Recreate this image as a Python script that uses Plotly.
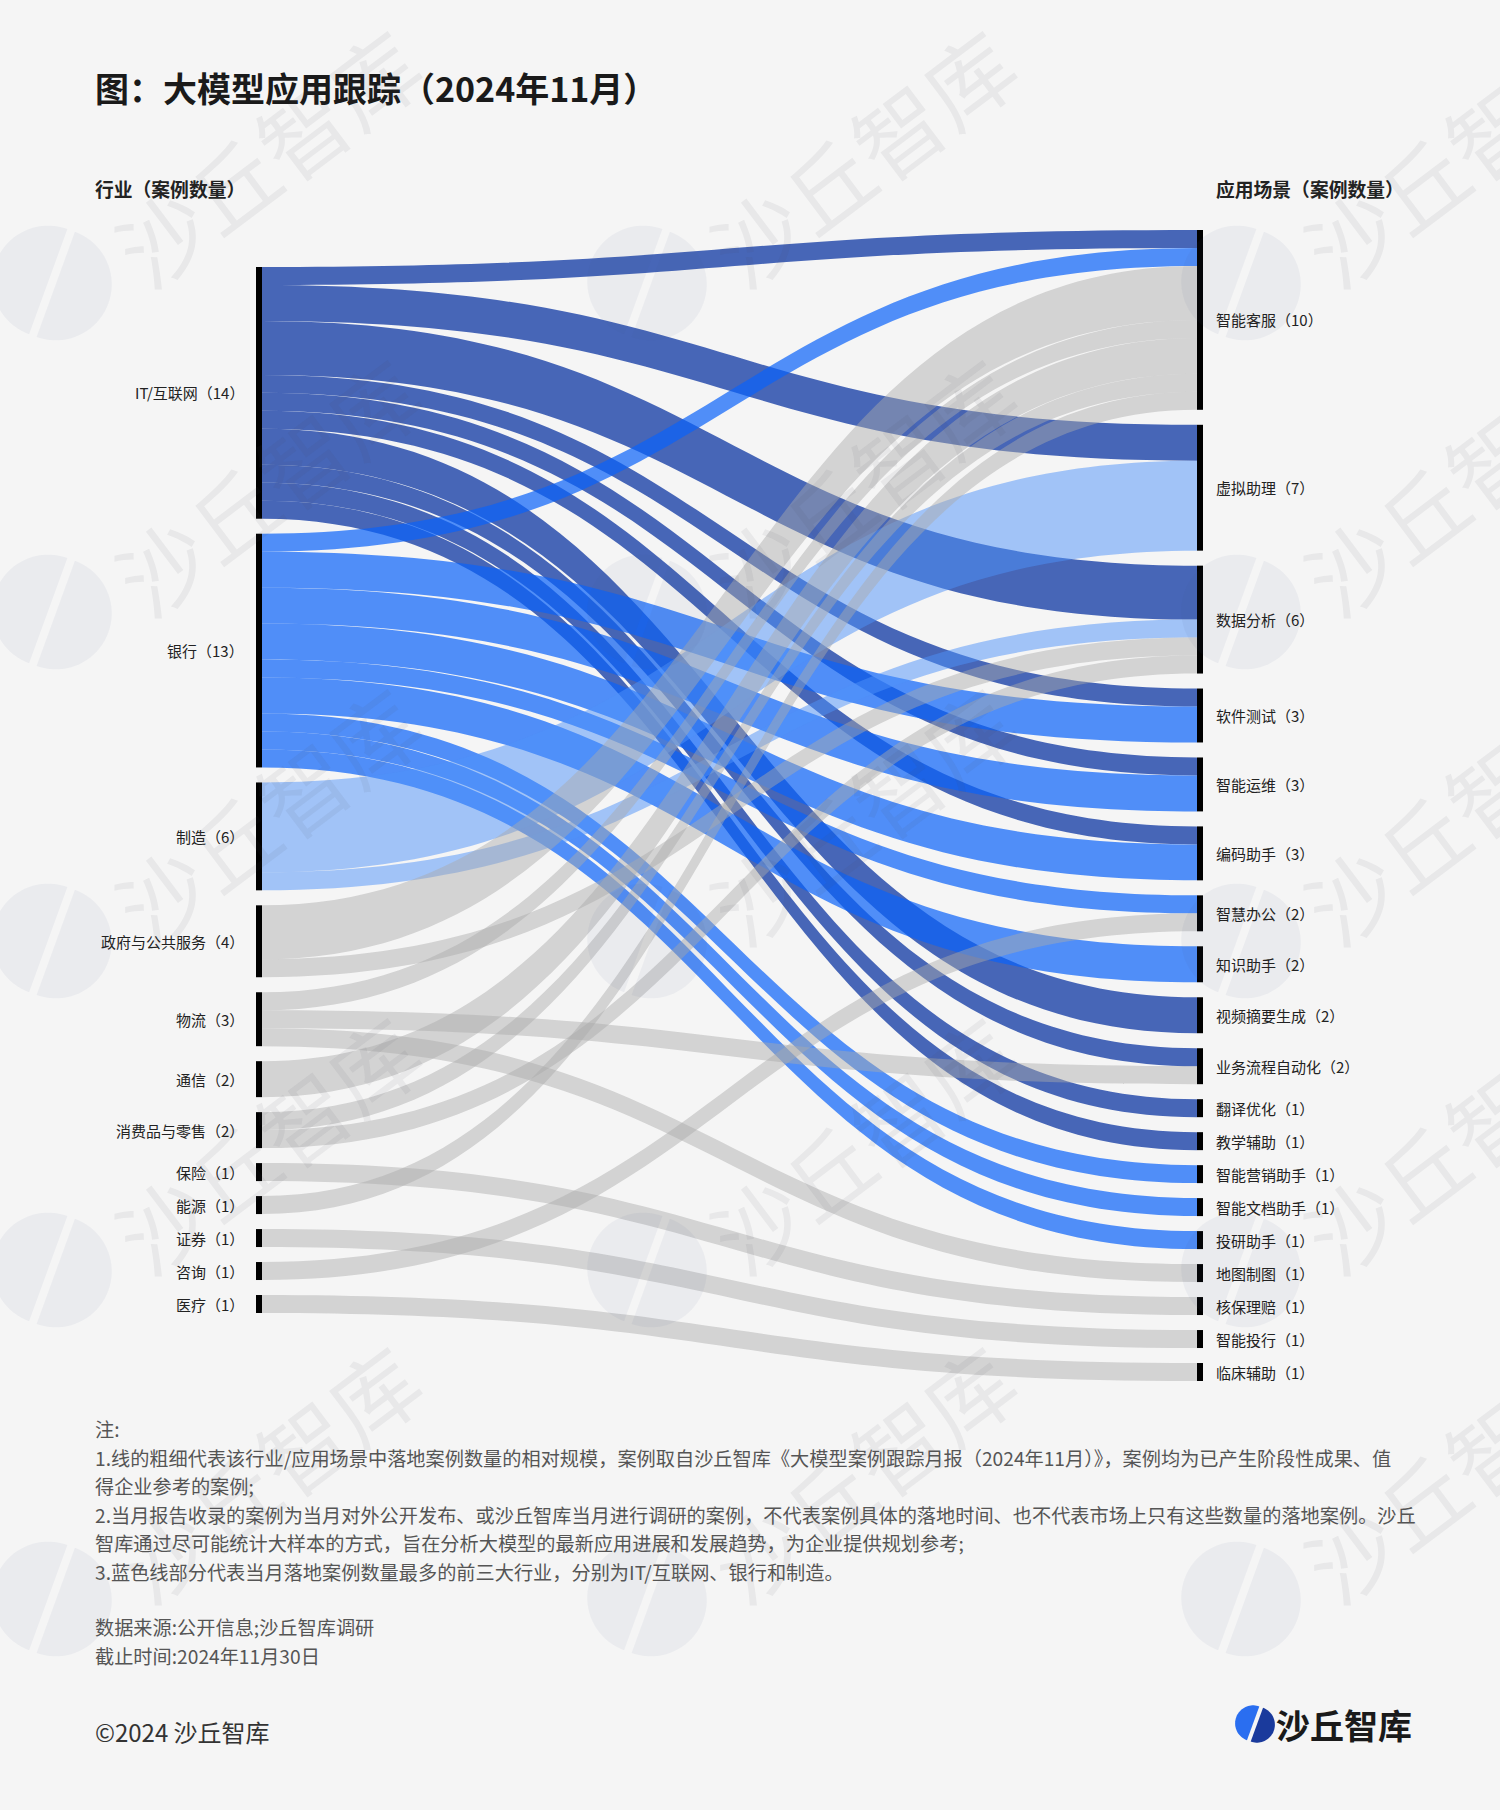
import math
import plotly.graph_objects as go

# ---------------- data ----------------
industries = ["IT/互联网", "银行", "制造", "政府与公共服务", "物流", "通信",
              "消费品与零售", "保险", "能源", "证券", "咨询", "医疗"]
industry_counts = [14, 13, 6, 4, 3, 2, 2, 1, 1, 1, 1, 1]

scenarios = ["智能客服", "虚拟助理", "数据分析", "软件测试", "智能运维", "编码助手",
             "智慧办公", "知识助手", "视频摘要生成", "业务流程自动化", "翻译优化",
             "教学辅助", "智能营销助手", "智能文档助手", "投研助手", "地图制图",
             "核保理赔", "智能投行", "临床辅助"]
scenario_counts = [10, 7, 6, 3, 3, 3, 2, 2, 2, 2, 1, 1, 1, 1, 1, 1, 1, 1, 1]

link_industry = ["IT/互联网"] * 10 + ["银行"] * 9 + ["制造"] * 2 + ["政府与公共服务"] * 2 + \
                ["物流"] * 3 + ["通信"] + ["消费品与零售"] * 2 + ["保险", "能源", "证券", "咨询", "医疗"]
link_scenario = ["智能客服", "虚拟助理", "数据分析", "软件测试", "智能运维", "编码助手",
                 "视频摘要生成", "业务流程自动化", "翻译优化", "教学辅助",
                 "智能客服", "软件测试", "智能运维", "编码助手", "智慧办公", "知识助手",
                 "智能营销助手", "智能文档助手", "投研助手",
                 "虚拟助理", "数据分析",
                 "智能客服", "数据分析",
                 "智能客服", "业务流程自动化", "地图制图",
                 "智能客服",
                 "智能客服", "数据分析",
                 "核保理赔", "智能客服", "智能投行", "智慧办公", "临床辅助"]
link_value = [1, 2, 3, 1, 1, 1, 2, 1, 1, 1,
              1, 2, 2, 2, 1, 2, 1, 1, 1,
              5, 1,
              3, 1,
              1, 1, 1,
              2,
              1, 1,
              1, 1, 1, 1, 1]

title_text = "图：大模型应用跟踪（2024年11月）"
left_header = "行业（案例数量）"
right_header = "应用场景（案例数量）"
notes = [
    "注:",
    "1.线的粗细代表该行业/应用场景中落地案例数量的相对规模，案例取自沙丘智库《大模型案例跟踪月报（2024年11月）》，案例均为已产生阶段性成果、值",
    "得企业参考的案例;",
    "2.当月报告收录的案例为当月对外公开发布、或沙丘智库当月进行调研的案例，不代表案例具体的落地时间、也不代表市场上只有这些数量的落地案例。沙丘",
    "智库通过尽可能统计大样本的方式，旨在分析大模型的最新应用进展和发展趋势，为企业提供规划参考;",
    "3.蓝色线部分代表当月落地案例数量最多的前三大行业，分别为IT/互联网、银行和制造。",
]
source_lines = ["数据来源:公开信息;沙丘智库调研", "截止时间:2024年11月30日"]
copyright_text = "©2024 沙丘智库"
brand_text = "沙丘智库"
watermark_text = "沙丘智库"

# ---------------- styling / layout constants ----------------
W, H = 1500, 1810
BG = "#f5f5f5"
FONT = "Noto Sans CJK SC"
industry_colors = {
    "IT/互联网": "rgba(22,61,165,0.78)",
    "银行": "rgba(10,98,250,0.70)",
    "制造": "rgba(77,145,250,0.50)",
}
other_color = "rgba(170,170,170,0.46)"

dom_x0, dom_x1 = 255, 1204      # sankey domain in px
dom_y0, dom_y1 = 230, 1381
pad = 15
thick = 6
left_cx, right_cx = 259, 1200
left_top = 267
right_top = dom_y0


def px(x):
    return x / W


def py(y):
    return 1 - y / H


dom_h = dom_y1 - dom_y0
dom_w = dom_x1 - dom_x0
total = sum(scenario_counts)
unit = (dom_h - (len(scenarios) - 1) * pad) / total


def centers(counts, top):
    out = []
    y = top
    for c in counts:
        out.append(y + c * unit / 2)
        y += c * unit + pad
    return out


left_centers = centers(industry_counts, left_top)
right_centers = centers(scenario_counts, right_top)

labels = industries + scenarios
node_x = [(left_cx - dom_x0) / dom_w] * len(industries) + [(right_cx - dom_x0) / dom_w] * len(scenarios)
node_y = [(c - dom_y0) / dom_h for c in left_centers + right_centers]

src = [industries.index(s) for s in link_industry]
tgt = [len(industries) + scenarios.index(t) for t in link_scenario]
lcol = [industry_colors.get(s, other_color) for s in link_industry]

fig = go.Figure(go.Sankey(
    arrangement="fixed",
    domain=dict(x=[px(dom_x0), px(dom_x1)], y=[py(dom_y1), py(dom_y0)]),
    node=dict(label=labels, x=node_x, y=node_y, pad=pad, thickness=thick,
              color="black", line=dict(width=0)),
    link=dict(source=src, target=tgt, value=link_value, color=lcol),
    textfont=dict(color="rgba(0,0,0,0)", size=1),
))

ann = []
shapes = []

# node labels
for name, cnt, cy in zip(industries, industry_counts, left_centers):
    ann.append(dict(x=px(246), y=py(cy), text=f"{name}（{cnt}）", xanchor="right", yanchor="middle",
                    showarrow=False, font=dict(family=FONT, size=15, color="#222")))
for name, cnt, cy in zip(scenarios, scenario_counts, right_centers):
    ann.append(dict(x=px(1214), y=py(cy), text=f"{name}（{cnt}）", xanchor="left", yanchor="middle",
                    showarrow=False, font=dict(family=FONT, size=15, color="#222")))

# headers & title
ann.append(dict(x=px(93), y=py(88), text=f"<b>{title_text}</b>", xanchor="left", yanchor="middle",
                showarrow=False, font=dict(family=FONT, size=34, color="#1a1a1a")))
ann.append(dict(x=px(93), y=py(188), text=f"<b>{left_header}</b>", xanchor="left", yanchor="middle",
                showarrow=False, font=dict(family=FONT, size=18.8, color="#222")))
ann.append(dict(x=px(1214), y=py(188), text=f"<b>{right_header}</b>", xanchor="left", yanchor="middle",
                showarrow=False, font=dict(family=FONT, size=18.8, color="#222")))

# notes
for i, line in enumerate(notes):
    ann.append(dict(x=px(93), y=py(1429 + i * 28.5), text=line, xanchor="left", yanchor="middle",
                    showarrow=False, font=dict(family=FONT, size=19.2, color="#555")))
for i, line in enumerate(source_lines):
    ann.append(dict(x=px(93), y=py(1627 + i * 29), text=line, xanchor="left", yanchor="middle",
                    showarrow=False, font=dict(family=FONT, size=19.2, color="#555")))
ann.append(dict(x=px(93), y=py(1731), text=copyright_text, xanchor="left", yanchor="middle",
                showarrow=False, font=dict(family=FONT, size=24, color="#333")))
ann.append(dict(x=px(1274), y=py(1724), text=f"<b>{brand_text}</b>", xanchor="left", yanchor="middle",
                showarrow=False, font=dict(family=FONT, size=34, color="#1a1a1a")))


def half_disc_path(cx, cy, r, ang0, ang1, shift):
    mid = (ang0 + ang1) / 2
    dx, dy = shift * math.cos(mid), shift * math.sin(mid)
    pts = []
    n = 40
    for k in range(n + 1):
        a = ang0 + (ang1 - ang0) * k / n
        pts.append((cx + dx + r * math.cos(a), cy + dy + r * math.sin(a)))
    return "M " + " L ".join(f"{px(x):.5f},{py(y):.5f}" for x, y in pts) + " Z"


def logo(cx, cy, r, c1, c2, gap):
    tilt = math.radians(-70)
    shapes.append(dict(type="path", xref="paper", yref="paper", layer="above",
                       path=half_disc_path(cx, cy, r, tilt, tilt + math.pi, gap),
                       fillcolor=c1, line=dict(width=0)))
    shapes.append(dict(type="path", xref="paper", yref="paper", layer="above",
                       path=half_disc_path(cx, cy, r, tilt + math.pi, tilt + 2 * math.pi, gap),
                       fillcolor=c2, line=dict(width=0)))


# watermarks
wm_cols = [52, 647, 1241]
wm_rows = [283, 612, 941, 1270, 1599]
for cy in wm_rows:
    for cx in wm_cols:
        logo(cx, cy, 56, "rgba(70,80,140,0.06)", "rgba(70,80,140,0.06)", 4)
        ann.append(dict(x=px(cx + 214), y=py(cy - 128), text=watermark_text, textangle=-37,
                        xanchor="center", yanchor="middle", showarrow=False,
                        font=dict(family=FONT, size=88, color="rgba(70,70,90,0.07)")))

# brand logo icon
logo(1255, 1724, 18, "#1a3a9c", "#2a6ef0", 2)

fig.update_layout(
    width=W, height=H, autosize=False,
    margin=dict(l=0, r=0, t=0, b=0),
    paper_bgcolor=BG, plot_bgcolor=BG,
    annotations=ann, shapes=shapes,
    font=dict(family=FONT),
)

fig.write_html("out.html", post_script="document.body.style.margin='0';")
